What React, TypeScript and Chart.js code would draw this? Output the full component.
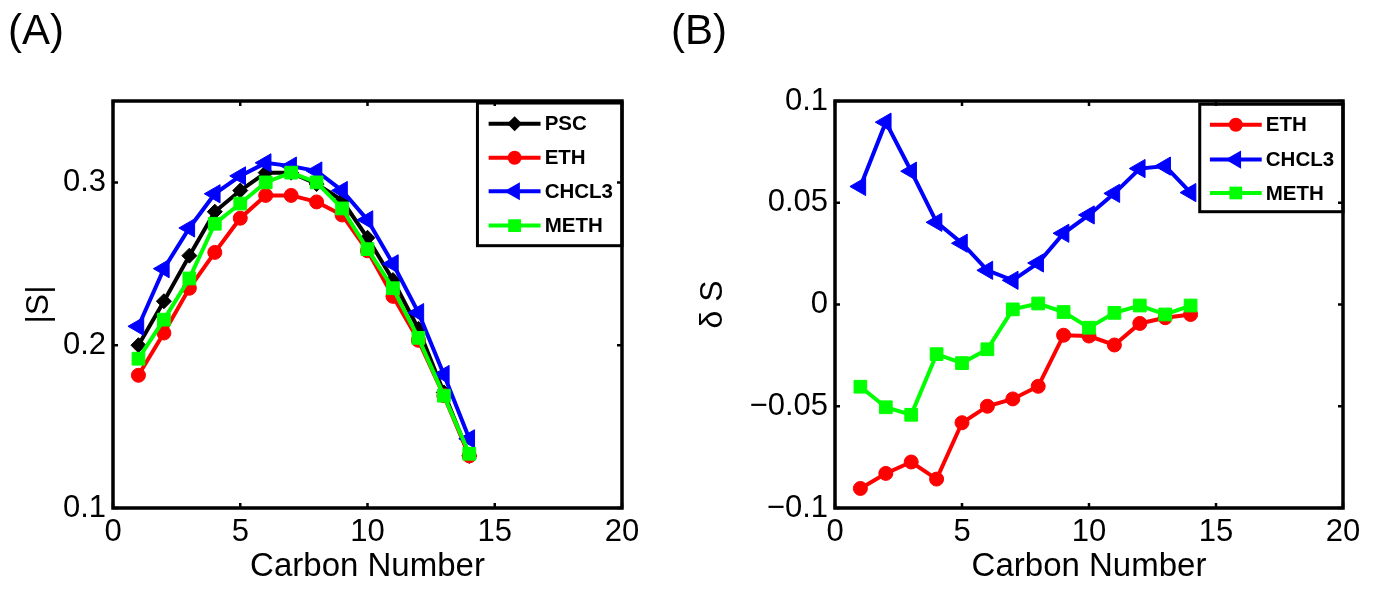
import React, { useEffect, useRef } from "react";
import { Chart, registerables } from "chart.js";

Chart.register(...registerables);

const carbon = [1, 2, 3, 4, 5, 6, 7, 8, 9, 10, 11, 12, 13, 14];

// Panel A |S|
const pscA = [0.2, 0.227, 0.255, 0.282, 0.295, 0.306, 0.306, 0.299, 0.289, 0.266, 0.24, 0.21, 0.171, 0.132];
const ethA = [0.1815, 0.2075, 0.235, 0.257, 0.278, 0.292, 0.292, 0.288, 0.28, 0.258, 0.23, 0.203, 0.169, 0.132];
const chclA = [0.2116, 0.247, 0.272, 0.293, 0.304, 0.312, 0.31, 0.307, 0.295, 0.277, 0.25, 0.22, 0.182, 0.1425];
const methA = [0.1917, 0.2157, 0.241, 0.2746, 0.287, 0.3, 0.306, 0.3, 0.284, 0.259, 0.235, 0.2045, 0.169, 0.1333];

// Panel B delta S
const ethB = [-0.0904, -0.083, -0.0774, -0.0858, -0.0581, -0.05, -0.0464, -0.0402, -0.0151, -0.0155, -0.0199, -0.0093, -0.0065, -0.0049];
const chclB = [0.058, 0.0896, 0.0655, 0.0404, 0.0301, 0.0168, 0.0119, 0.0204, 0.035, 0.044, 0.0546, 0.0668, 0.068, 0.055];
const methB = [-0.0404, -0.0505, -0.0542, -0.0244, -0.0288, -0.022, -0.0024, 0.0005, -0.0037, -0.0114, -0.0041, -0.0005, -0.0049, -0.0005];

const xTicks = [0, 5, 10, 15, 20];
const yTicksA = [0.1, 0.2, 0.3];
const yTicksB = [-0.1, -0.05, 0, 0.05, 0.1];

const FONT = "'Liberation Sans', Arial, Helvetica, sans-serif";

const STYLE: Record<string, { color: string; style: string; radius: number; rotation: number }> = {
  PSC: { color: "#000000", style: "rectRot", radius: 7.5, rotation: 0 },
  ETH: { color: "#ff0000", style: "circle", radius: 7, rotation: 0 },
  CHCL3: { color: "#0000ff", style: "triangle", radius: 10.5, rotation: -90 },
  METH: { color: "#00ff00", style: "rect", radius: 9, rotation: 0 },
};

function marker(ctx: CanvasRenderingContext2D, style: string, r: number, x: number, y: number) {
  ctx.beginPath();
  if (style === "circle") {
    ctx.arc(x, y, r, 0, Math.PI * 2);
  } else if (style === "rect") {
    const s = r * Math.SQRT1_2;
    ctx.rect(x - s, y - s, 2 * s, 2 * s);
  } else if (style === "rectRot") {
    ctx.moveTo(x, y - r);
    ctx.lineTo(x + r, y);
    ctx.lineTo(x, y + r);
    ctx.lineTo(x - r, y);
    ctx.closePath();
  } else if (style === "triangle") {
    ctx.moveTo(x - r, y);
    ctx.lineTo(x + r * 0.5, y - r * 0.866);
    ctx.lineTo(x + r * 0.5, y + r * 0.866);
    ctx.closePath();
  }
  ctx.fill();
}

function mk(label: string, data: number[], order: number) {
  const s = STYLE[label];
  return {
    label,
    data: carbon.map((c, i) => ({ x: c, y: data[i] })),
    borderColor: s.color,
    backgroundColor: s.color,
    borderWidth: 4,
    pointStyle: s.style,
    pointRadius: s.radius,
    pointRotation: s.rotation,
    pointBorderWidth: 1,
    pointBackgroundColor: s.color,
    pointBorderColor: s.color,
    tension: 0,
    order,
  };
}

const framePlugin = {
  id: "frame",
  afterDraw(chart: any, _args: any, opts: any) {
    const ctx = chart.ctx;
    const { left, right, top, bottom } = chart.chartArea;
    const xs = chart.scales.x;
    const ys = chart.scales.y;
    ctx.save();
    const lg = opts.legend as string[];
    const w = right - left;
    const h = bottom - top;
    const boxL = left + w * opts.boxLeft;
    const boxT = top + h * opts.boxTop;
    const boxB = top + h * opts.boxBottom;
    ctx.fillStyle = "#fff";
    ctx.fillRect(boxL, boxT, right - boxL, boxB - boxT);
    ctx.strokeStyle = "#000";
    ctx.lineWidth = 3;
    ctx.strokeRect(boxL, boxT, right - boxL, boxB - boxT);
    lg.forEach((name, i) => {
      const s = STYLE[name];
      const y = top + h * opts.rows[i];
      const x1 = left + w * 0.738;
      const x2 = left + w * 0.84;
      ctx.strokeStyle = s.color;
      ctx.lineWidth = 4;
      ctx.beginPath();
      ctx.moveTo(x1, y);
      ctx.lineTo(x2, y);
      ctx.stroke();
      ctx.fillStyle = s.color;
      marker(ctx, s.style, s.radius, (x1 + x2) / 2, y);
      ctx.fillStyle = "#000";
      ctx.font = `bold 20.5px ${FONT}`;
      ctx.textBaseline = "middle";
      ctx.textAlign = "left";
      ctx.fillText(name, left + w * 0.848, y + 1);
    });
    ctx.strokeStyle = "#000";
    ctx.lineWidth = 3.5;
    ctx.strokeRect(left, top, right - left, bottom - top);
    ctx.lineWidth = 2.5;
    const tl = 5;
    ctx.beginPath();
    xs.ticks.forEach((t: any) => {
      const px = xs.getPixelForValue(t.value);
      ctx.moveTo(px, bottom);
      ctx.lineTo(px, bottom - tl);
      ctx.moveTo(px, top);
      ctx.lineTo(px, top + tl);
    });
    ys.ticks.forEach((t: any) => {
      const py = ys.getPixelForValue(t.value);
      ctx.moveTo(left, py);
      ctx.lineTo(left + tl, py);
      ctx.moveTo(right, py);
      ctx.lineTo(right - tl, py);
    });
    ctx.stroke();
    ctx.restore();
  },
};

function fmt(v: number) {
  const r = Math.round(v * 1000) / 1000;
  const s = String(Math.abs(r));
  return (r < 0 ? "\u2212" : "") + s;
}

function makeConfig(datasets: any[], ymin: number, ymax: number, yTicks: number[], yTitle: string, legend: string[], lopts: any, yWidth: number, padRight: number, titlePad: number) {
  return {
    type: "line",
    data: { datasets },
    plugins: [framePlugin],
    options: {
      animation: false,
      responsive: false,
      layout: { padding: { top: 101, right: padRight, left: 0, bottom: 0 } },
      plugins: {
        legend: { display: false },
        tooltip: { enabled: false },
        frame: { legend, ...lopts },
      },
      scales: {
        x: {
          type: "linear",
          min: 0,
          max: 20,
          afterBuildTicks: (s: any) => { s.ticks = xTicks.map((v) => ({ value: v })); },
          grid: { display: false, drawTicks: false },
          border: { display: false },
          ticks: { color: "#000", font: { family: FONT, size: 31 }, padding: 6, callback: (v: any) => String(v) },
          title: { display: true, text: "Carbon Number", color: "#000", font: { family: FONT, size: 33 }, padding: { top: 0, bottom: 2 } },
          afterFit: (s: any) => { s.height = 81; },
        },
        y: {
          type: "linear",
          min: ymin,
          max: ymax,
          afterBuildTicks: (s: any) => { s.ticks = yTicks.map((v) => ({ value: v })); },
          grid: { display: false, drawTicks: false },
          border: { display: false },
          ticks: { color: "#000", font: { family: FONT, size: 31 }, padding: 7, callback: (v: any) => fmt(Number(v)) },
          title: { display: true, text: yTitle, color: "#000", font: { family: FONT, size: 32 }, padding: { top: titlePad, bottom: 0 } },
          afterFit: (s: any) => { s.width = yWidth; },
        },
      },
    },
  };
}

function Panel({ cfg, left, width }: { cfg: any; left: number; width: number }) {
  const ref = useRef<HTMLCanvasElement>(null);
  useEffect(() => {
    const chart = new Chart(ref.current as HTMLCanvasElement, cfg);
    return () => chart.destroy();
  }, []);
  return <canvas ref={ref} width={width} height={589} style={{ position: "absolute", left, top: 0, width, height: 589 }} />;
}

export default function App() {
  const cfgA = makeConfig(
    [mk("PSC", pscA, 4), mk("ETH", ethA, 3), mk("CHCL3", chclA, 2), mk("METH", methA, 1)],
    0.1, 0.35, yTicksA, "|S|", ["PSC", "ETH", "CHCL3", "METH"],
    { boxLeft: 0.716, boxTop: 0.005, boxBottom: 0.3555, rows: [0.0558, 0.1396, 0.2217, 0.3062] },
    113, 68, 20
  );
  const cfgB = makeConfig(
    [mk("ETH", ethB, 3), mk("CHCL3", chclB, 2), mk("METH", methB, 1)],
    -0.1, 0.1, yTicksB, "\u03b4 S", ["ETH", "CHCL3", "METH"],
    { boxLeft: 0.718, boxTop: 0.008, boxBottom: 0.272, rows: [0.0585, 0.144, 0.226] },
    155, 37, 14
  );
  return (
    <div style={{ position: "absolute", left: 0, top: 0, width: 1380, height: 589, background: "#fff", overflow: "hidden" }}>
      <Panel cfg={cfgA} left={0} width={690} />
      <Panel cfg={cfgB} left={680} width={700} />
      <div style={{ position: "absolute", left: 8, top: 6, font: `42px ${FONT}`, color: "#000" }}>(A)</div>
      <div style={{ position: "absolute", left: 671, top: 6, font: `42px ${FONT}`, color: "#000" }}>(B)</div>
    </div>
  );
}
